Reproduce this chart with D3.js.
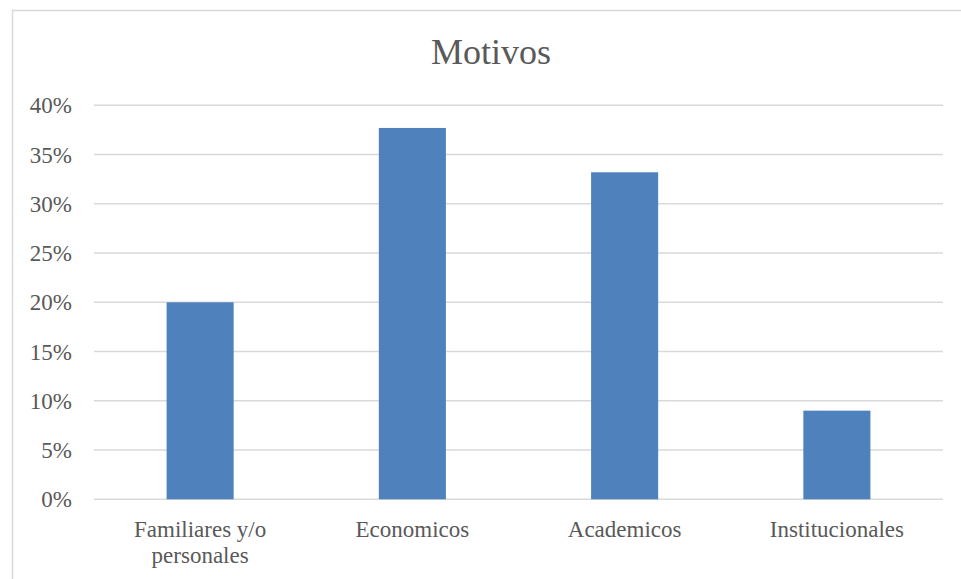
<!DOCTYPE html>
<html><head><meta charset="utf-8">
<script src="https://cdn.jsdelivr.net/npm/d3@7"></script>
<style>html,body{margin:0;padding:0;background:#fff;}
svg text{font-family:"Liberation Serif",Tinos,"Noto Serif","DejaVu Serif","FreeSerif","Times New Roman",Times,serif;}</style>
</head><body>
<svg id="c" width="961" height="579"></svg>
<script>
const categories = ["Familiares y/o personales", "Economicos", "Academicos", "Institucionales"];
const categoryLines = [["Familiares y/o", "personales"], ["Economicos"], ["Academicos"], ["Institucionales"]];
const values = [0.20, 0.377, 0.332, 0.09];
const yTicks = [0, 0.05, 0.10, 0.15, 0.20, 0.25, 0.30, 0.35, 0.40];
const title = "Motivos";

(function () {
const svg = d3.select("#c");
const textColor = "#595959";

svg.append("rect").attr("x", 12.5).attr("y", 10.5).attr("width", 960).attr("height", 600)
  .attr("fill", "#fff").attr("stroke", "#d9d9d9").attr("stroke-width", 1.5);

const pL = 94, pR = 943, pT = 105.3, pB = 499.3;
const x = d3.scaleBand().domain(categories).range([pL, pR]).paddingInner(0.684).paddingOuter(0.342);
const y = d3.scaleLinear().domain([0, 0.40]).range([pB, pT]);

svg.append("g").selectAll("line").data(yTicks).join("line")
  .attr("x1", pL).attr("x2", pR)
  .attr("y1", d => y(d)).attr("y2", d => y(d))
  .attr("stroke", "#d9d9d9").attr("stroke-width", 1.5);

const yAxis = d3.axisLeft(y).tickValues(yTicks).tickFormat(d3.format(".0%")).tickSize(0).tickPadding(0);
const ya = svg.append("g").attr("transform", "translate(72,0)").call(yAxis);
ya.select(".domain").remove();
ya.attr("font-family", null);
ya.selectAll("text").attr("font-size", 23).attr("fill", textColor).attr("dy", "0.33em");

svg.append("g").selectAll("rect").data(values).join("rect")
  .attr("x", (d, i) => x(categories[i]))
  .attr("width", x.bandwidth())
  .attr("y", d => y(d))
  .attr("height", d => y(0) - y(d))
  .attr("fill", "#4f81bd");

const xl = svg.append("g");
categories.forEach((c, i) => {
  const cx = x(c) + x.bandwidth() / 2;
  const t = xl.append("text")
    .attr("x", cx).attr("y", 537)
    .attr("text-anchor", "middle").attr("font-size", 23).attr("fill", textColor);
  categoryLines[i].forEach((ln, j) => {
    t.append("tspan").attr("x", cx).attr("dy", j === 0 ? 0 : 26).text(ln);
  });
});

svg.append("text").attr("x", 491).attr("y", 64).attr("text-anchor", "middle")
  .attr("font-size", 36).attr("fill", textColor).text(title);
})();
</script>
</body></html>
